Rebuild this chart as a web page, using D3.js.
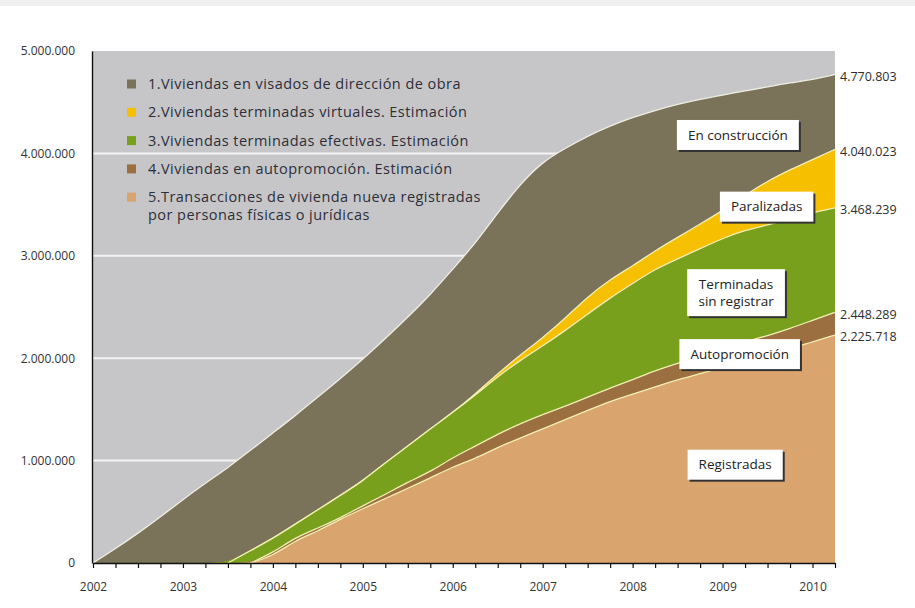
<!DOCTYPE html>
<html>
<head>
<meta charset="utf-8">
<script src="https://cdn.jsdelivr.net/npm/d3@7"></script>
<style>
body { margin: 0; background: #fff; }
svg { display: block; font-family: "Open Sans", "Noto Sans", sans-serif; }
</style>
</head>
<body>
<svg width="915" height="608"></svg>
<script>
// quarterly points, values in millions of dwellings (cumulative)
var quarters = [2002, 2002.25, 2002.5, 2002.75, 2003, 2003.25, 2003.5, 2003.75,
  2004, 2004.25, 2004.5, 2004.75, 2005, 2005.25, 2005.5, 2005.75,
  2006, 2006.25, 2006.5, 2006.75, 2007, 2007.25, 2007.5, 2007.75,
  2008, 2008.25, 2008.5, 2008.75, 2009, 2009.25, 2009.5, 2009.75,
  2010, 2010.25];

var visados = [0, 0.14, 0.29, 0.45, 0.62, 0.78, 0.93, 1.10,
  1.27, 1.44, 1.62, 1.80, 1.99, 2.19, 2.40, 2.62,
  2.87, 3.12, 3.42, 3.70, 3.92, 4.05, 4.17, 4.27,
  4.35, 4.42, 4.48, 4.53, 4.57, 4.61, 4.65, 4.69,
  4.72, 4.770803];

var virtuales = [0, 0, 0, 0, 0, 0, 0, 0.12,
  0.24, 0.38, 0.52, 0.66, 0.80, 0.98, 1.14, 1.31,
  1.47, 1.65, 1.85, 2.03, 2.20, 2.39, 2.60, 2.77,
  2.90, 3.05, 3.18, 3.31, 3.44, 3.59, 3.73, 3.84,
  3.94, 4.040023];

var efectivas = [0, 0, 0, 0, 0, 0, 0, 0.12,
  0.24, 0.38, 0.52, 0.66, 0.80, 0.98, 1.14, 1.31,
  1.47, 1.64, 1.82, 1.98, 2.12, 2.27, 2.43, 2.59,
  2.73, 2.87, 2.97, 3.07, 3.17, 3.25, 3.30, 3.36,
  3.42, 3.468239];

var autopromocion = [0, 0, 0, 0, 0, 0, 0, 0,
  0.10, 0.25, 0.34, 0.44, 0.56, 0.67, 0.79, 0.89,
  1.03, 1.14, 1.26, 1.36, 1.45, 1.53, 1.62, 1.71,
  1.79, 1.88, 1.95, 2.02, 2.09, 2.16, 2.22, 2.29,
  2.37, 2.448289];

var registradas = [0, 0, 0, 0, 0, 0, 0, 0,
  0.07, 0.22, 0.31, 0.43, 0.53, 0.63, 0.73, 0.83,
  0.94, 1.02, 1.13, 1.22, 1.31, 1.40, 1.49, 1.58,
  1.65, 1.72, 1.79, 1.85, 1.91, 1.97, 2.03, 2.09,
  2.16, 2.225718];

var years = [2002, 2003, 2004, 2005, 2006, 2007, 2008, 2009, 2010];
var yTicks = [0, 1000000, 2000000, 3000000, 4000000, 5000000];

var legendLabels = [
  ["1.Viviendas en visados de dirección de obra"],
  ["2.Viviendas terminadas virtuales.  Estimación"],
  ["3.Viviendas terminadas efectivas. Estimación"],
  ["4.Viviendas en autopromoción. Estimación"],
  ["5.Transacciones de vivienda nueva registradas", "por personas físicas o jurídicas"]
];

// text boxes placed on the bands (anchor in year / millions)
var areaLabels = [
  {lines: ["En construcción"], year: 2009.17, value: 4.18},
  {lines: ["Paralizadas"], year: 2009.49, value: 3.48},
  {lines: ["Terminadas", "sin registrar"], year: 2009.15, value: 2.64},
  {lines: ["Autopromoción"], year: 2009.19, value: 2.04},
  {lines: ["Registradas"], year: 2009.14, value: 0.96}
];

var series = [
  {key: "visados", values: visados, color: "#7a7359"},
  {key: "virtuales", values: virtuales, color: "#f6bf00"},
  {key: "efectivas", values: efectivas, color: "#78a01c"},
  {key: "autopromocion", values: autopromocion, color: "#9c6f40"},
  {key: "registradas", values: registradas, color: "#d9a46d"}
];

var es = d3.formatLocale({decimal: ",", thousands: ".", grouping: [3], currency: ["", " €"]});
var fmt = es.format(",d");

var svg = d3.select("svg"),
    width = +svg.attr("width"),
    height = +svg.attr("height"),
    margin = {top: 51, right: 80, bottom: 45, left: 93};

var x = d3.scaleLinear()
    .domain([2002, 2010.25])
    .range([margin.left, width - margin.right]);

var y = d3.scaleLinear()
    .domain([0, 5000000])
    .range([height - margin.bottom, margin.top]);

// thin grey band at the top of the page
svg.append("rect")
    .attr("x", 0).attr("y", 0)
    .attr("width", width).attr("height", 6)
    .attr("fill", "#f0f0f0");

// plot background
svg.append("rect")
    .attr("x", margin.left - 1)
    .attr("y", y(5000000))
    .attr("width", x(2010.25) - margin.left + 1)
    .attr("height", y(0) - y(5000000))
    .attr("fill", "#c6c6c8");

svg.append("g")
  .selectAll("line")
  .data(yTicks.filter(function(d) { return d > 0 && d < 5000000; }))
  .enter().append("line")
    .attr("x1", margin.left)
    .attr("x2", x(2010.25))
    .attr("y1", function(d) { return y(d); })
    .attr("y2", function(d) { return y(d); })
    .attr("stroke", "#f3f3f3")
    .attr("stroke-width", 2);

var area = d3.area()
    .x(function(d, i) { return x(quarters[i]); })
    .y0(y(0))
    .y1(function(d) { return y(d * 1e6); })
    .curve(d3.curveBasis);

var line = d3.line()
    .defined(function(d, i, arr) { return d > 0 || (i + 1 < arr.length && arr[i + 1] > 0); })
    .x(function(d, i) { return x(quarters[i]); })
    .y(function(d) { return y(d * 1e6); })
    .curve(d3.curveBasis);

var layers = svg.append("g")
  .selectAll("g")
  .data(series)
  .enter().append("g");

layers.append("path")
    .attr("d", function(d) { return area(d.values); })
    .attr("fill", function(d) { return d.color; });

layers.append("path")
    .attr("d", function(d) { return line(d.values); })
    .attr("fill", "none")
    .attr("stroke", function(d) { return d.key == "visados" ? "#efeee4" : "#f2efb4"; })
    .attr("stroke-width", 1.3);

// legend
var legend = svg.append("g")
    .attr("transform", "translate(127,84)");

var rows = legend.selectAll("g")
  .data(series)
  .enter().append("g")
    .attr("transform", function(d, i) { return "translate(0," + (i * 28.3) + ")"; });

rows.append("rect")
    .attr("x", 0).attr("y", -4.5)
    .attr("width", 9).attr("height", 9)
    .attr("fill", function(d) { return d.color; });

rows.append("text")
    .attr("x", 21)
    .attr("font-size", 14.5)
    .attr("fill", "#2e2e3a")
  .selectAll("tspan")
  .data(function(d, i) { return legendLabels[i]; })
  .enter().append("tspan")
    .attr("x", 21)
    .attr("dy", function(d, i) { return i == 0 ? "0.35em" : "1.2em"; })
    .attr("letter-spacing", 0.45)
    .text(function(d) { return d; });

// value labels at the right end
svg.append("g")
  .selectAll("text")
  .data(series)
  .enter().append("text")
    .attr("x", x(2010.25) + 5)
    .attr("y", function(d) { return y(d.values[d.values.length - 1] * 1e6) + 2; })
    .attr("dy", "0.35em")
    .attr("font-size", 12.5)
    .attr("fill", "#2e2e2e")
    .text(function(d) { return fmt(Math.round(d.values[d.values.length - 1] * 1e6)); });

// boxed labels on the bands
var boxes = svg.append("g")
  .selectAll("g")
  .data(areaLabels)
  .enter().append("g")
    .attr("transform", function(d) { return "translate(" + x(d.year) + "," + y(d.value * 1e6) + ")"; });

boxes.each(function(d) {
  var g = d3.select(this);
  var shadow = g.append("rect").attr("fill", "#333");
  var box = g.append("rect").attr("fill", "#fff");
  var t = g.append("text")
      .attr("text-anchor", "middle")
      .attr("font-size", 13.5)
      .attr("fill", "#222");
  t.selectAll("tspan")
    .data(d.lines)
    .enter().append("tspan")
      .attr("x", 0)
      .attr("y", function(s, i) { return (i - (d.lines.length - 1) / 2) * 17; })
      .attr("dy", "0.35em")
      .text(function(s) { return s; });
  var bb = t.node().getBBox();
  var w = bb.width + 22, h = bb.height + 12;
  box.attr("x", -w / 2).attr("y", -h / 2).attr("width", w).attr("height", h);
  shadow.attr("x", -w / 2 + 2).attr("y", -h / 2 + 2).attr("width", w).attr("height", h);
});

// axes
var xAxis = svg.append("g")
    .attr("transform", "translate(0," + y(0) + ")")
    .call(d3.axisBottom(x)
      .tickValues(quarters)
      .tickSize(5)
      .tickSizeOuter(0)
      .tickPadding(14)
      .tickFormat(function(d) { return years.indexOf(d) >= 0 ? d : ""; }));

var yAxis = svg.append("g")
    .attr("transform", "translate(" + (margin.left - 1) + ",0)")
    .call(d3.axisLeft(y)
      .tickValues(yTicks)
      .tickSize(0)
      .tickPadding(17)
      .tickFormat(fmt));

svg.selectAll(".domain").attr("stroke", "#111").attr("stroke-width", 1.4);
svg.selectAll(".tick line").attr("stroke", "#111").attr("stroke-width", 1.2);
svg.selectAll(".tick text")
    .attr("font-family", "\"Open Sans\", sans-serif")
    .attr("fill", "#333");
xAxis.selectAll(".tick text").attr("font-size", 12);
yAxis.selectAll(".tick text").attr("font-size", 12);
</script>
</body>
</html>
